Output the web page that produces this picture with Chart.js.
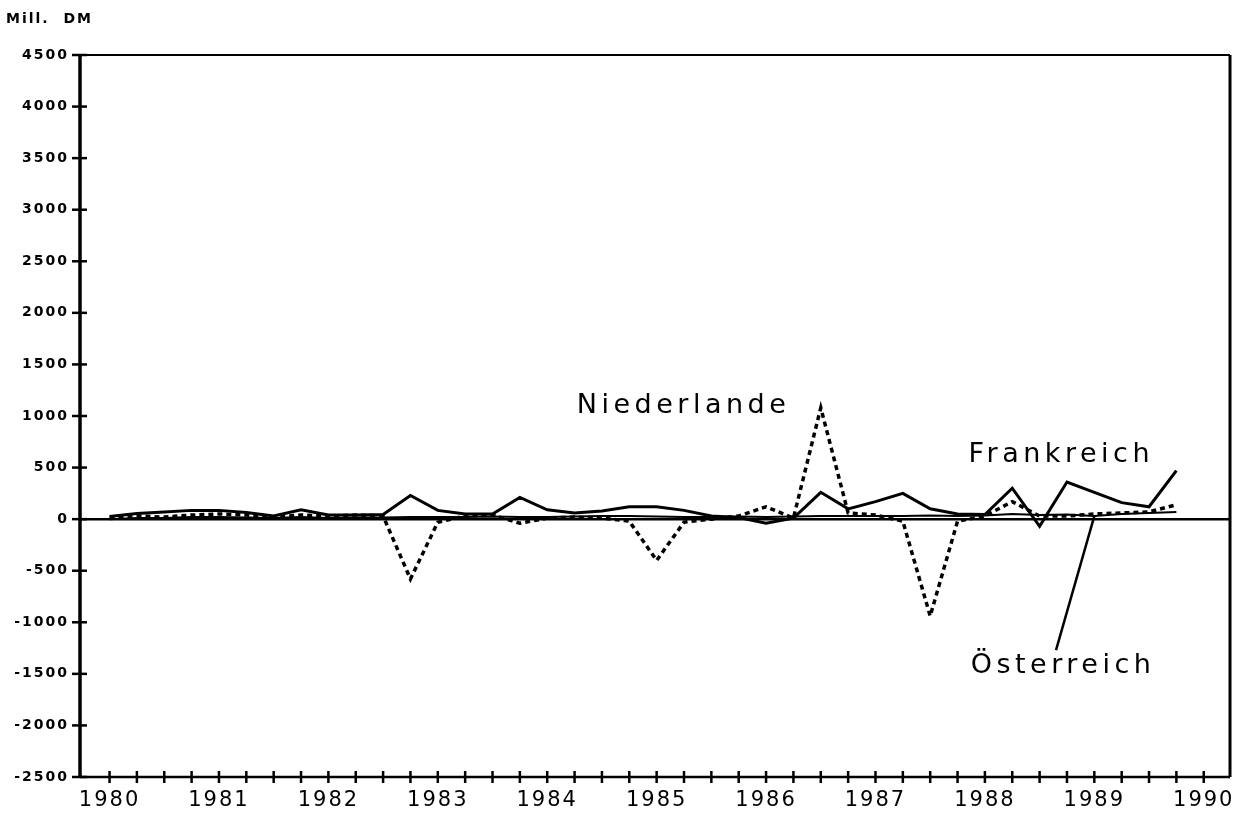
<!DOCTYPE html>
<html>
<head>
<meta charset="utf-8">
<script src="https://cdn.jsdelivr.net/npm/chart.js@4.4.1/dist/chart.umd.min.js"></script>
<style>
  html, body { margin: 0; padding: 0; background: #fff; }
  #wrap { width: 1258px; height: 817px; }
</style>
</head>
<body>
<div id="wrap"><canvas id="chart" width="1258" height="817"></canvas></div>
<script>
// quarterly values, Mill. DM
const years = [1980, 1981, 1982, 1983, 1984, 1985, 1986, 1987, 1988, 1989];
const quarters = years.flatMap(y => [y, y + 0.25, y + 0.5, y + 0.75]);

const frankreich = [
  25, 55, 70, 85,
  85, 65, 30, 90,
  40, 40, 45, 230,
  85, 50, 50, 210,
  90, 60, 80, 120,
  120, 85, 30, 15,
  -40, 10, 260, 100,
  170, 250, 100, 50,
  45, 300, -70, 360,
  260, 160, 120, 470
];
const niederlande = [
  10, 30, 20, 40,
  50, 40, 20, 40,
  30, 40, 30, -580,
  -30, 30, 40, -40,
  10, 20, 10, -20,
  -400, -30, 0, 30,
  120, 10, 1080, 60,
  40, -20, -940, -20,
  30, 170, 30, 30,
  50, 60, 70, 140
];
const oesterreich = [
  0, 10, 10, 20,
  20, 15, 10, 20,
  10, 15, 15, 20,
  20, 20, 25, 20,
  20, 25, 30, 30,
  25, 20, 20, 25,
  20, 25, 30, 30,
  30, 30, 35, 30,
  35, 50, 40, 45,
  30, 50, 60, 70
];

const yTicks = [-2500, -2000, -1500, -1000, -500, 0, 500, 1000, 1500, 2000, 2500, 3000, 3500, 4000, 4500];
const xTickYears = [1980, 1981, 1982, 1983, 1984, 1985, 1986, 1987, 1988, 1989, 1990];
const unitLabel = 'Mill.  DM';

const toPoints = vals => vals.map((v, i) => ({ x: quarters[i], y: v }));

// axis frame, cross ticks and zero line
const framePlugin = {
  id: 'frame',
  beforeDraw(chart) {
    chart.ctx.letterSpacing = '2px';
  },
  beforeDatasetsDraw(chart) {
    const { ctx, chartArea: a, scales: { x, y } } = chart;
    ctx.save();
    ctx.letterSpacing = '0px';
    ctx.strokeStyle = '#000';
    ctx.lineCap = 'butt';

    ctx.lineWidth = 2;
    ctx.beginPath();
    ctx.moveTo(a.left, a.top);
    ctx.lineTo(a.right, a.top);
    ctx.stroke();

    ctx.lineWidth = 3;
    ctx.beginPath();
    ctx.moveTo(a.right, a.top);
    ctx.lineTo(a.right, a.bottom);
    ctx.stroke();

    ctx.lineWidth = 3.5;
    ctx.beginPath();
    ctx.moveTo(a.left, a.top - 1);
    ctx.lineTo(a.left, a.bottom + 1);
    ctx.stroke();

    ctx.lineWidth = 2.5;
    ctx.beginPath();
    ctx.moveTo(a.left, a.bottom);
    ctx.lineTo(a.right, a.bottom);
    ctx.stroke();

    // zero line
    const y0 = y.getPixelForValue(0);
    ctx.lineWidth = 2.5;
    ctx.beginPath();
    ctx.moveTo(a.left, y0);
    ctx.lineTo(a.right, y0);
    ctx.stroke();

    ctx.lineWidth = 2.5;
    yTicks.forEach(v => {
      const py = y.getPixelForValue(v);
      ctx.beginPath();
      ctx.moveTo(a.left - 8, py);
      ctx.lineTo(a.left + 7, py);
      ctx.stroke();
    });
    for (let q = xTickYears[0]; q <= xTickYears[xTickYears.length - 1] + 0.001; q += 0.25) {
      const px = x.getPixelForValue(q);
      ctx.beginPath();
      ctx.moveTo(px, a.bottom - 6);
      ctx.lineTo(px, a.bottom + 6);
      ctx.stroke();
    }
    ctx.restore();
  },
  afterDraw(chart) {
    const { ctx, scales: { x, y } } = chart;
    ctx.save();
    ctx.fillStyle = '#000';
    ctx.textAlign = 'left';
    ctx.textBaseline = 'alphabetic';

    ctx.font = 'bold 14px "DejaVu Sans"';
    ctx.letterSpacing = '2px';
    ctx.fillText(unitLabel, 6, 23);

    ctx.font = '27px "DejaVu Sans"';
    ctx.letterSpacing = '4.5px';
    ctx.fillText('Niederlande', x.getPixelForValue(1984.27), y.getPixelForValue(1030));
    ctx.fillText('Frankreich', x.getPixelForValue(1987.85), y.getPixelForValue(554));
    ctx.fillText('Österreich', x.getPixelForValue(1987.87), y.getPixelForValue(-1493));

    // leader line to Österreich
    ctx.letterSpacing = '0px';
    ctx.strokeStyle = '#000';
    ctx.lineWidth = 2.5;
    ctx.beginPath();
    ctx.moveTo(x.getPixelForValue(1988.65), y.getPixelForValue(-1270));
    ctx.lineTo(x.getPixelForValue(quarters[36]), y.getPixelForValue(oesterreich[36]));
    ctx.stroke();
    ctx.restore();
  }
};

new Chart(document.getElementById('chart'), {
  type: 'line',
  data: {
    datasets: [
      {
        label: 'Niederlande',
        data: toPoints(niederlande),
        borderColor: '#000',
        borderWidth: 3.5,
        borderDash: [5, 4],
        pointRadius: 0,
        tension: 0
      },
      {
        label: 'Österreich',
        data: toPoints(oesterreich),
        borderColor: '#000',
        borderWidth: 2,
        pointRadius: 0,
        tension: 0
      },
      {
        label: 'Frankreich',
        data: toPoints(frankreich),
        borderColor: '#000',
        borderWidth: 3,
        pointRadius: 0,
        tension: 0
      }
    ]
  },
  options: {
    responsive: false,
    devicePixelRatio: 1,
    animation: false,
    layout: { padding: { top: 55, right: 28, left: 0, bottom: 0 } },
    plugins: {
      legend: { display: false },
      tooltip: { enabled: false }
    },
    scales: {
      x: {
        type: 'linear',
        min: 1979.73,
        max: 1990.24,
        afterFit: s => { s.height = 40; },
        afterBuildTicks: s => {
          s.ticks = xTickYears.map(v => ({ value: v }));
        },
        grid: { display: false, drawTicks: false },
        border: { display: false },
        ticks: {
          autoSkip: false,
          maxRotation: 0,
          padding: 11,
          color: '#000',
          font: { family: 'DejaVu Sans', size: 21 },
          callback: v => String(v)
        }
      },
      y: {
        min: -2500,
        max: 4500,
        afterFit: s => { s.width = 80; },
        afterBuildTicks: s => {
          s.ticks = yTicks.map(v => ({ value: v }));
        },
        grid: { display: false, drawTicks: false },
        border: { display: false },
        ticks: {
          padding: 11,
          color: '#000',
          font: { family: 'DejaVu Sans', size: 14, weight: 'bold' },
          callback: v => String(v)
        }
      }
    }
  },
  plugins: [framePlugin]
});
</script>
</body>
</html>
